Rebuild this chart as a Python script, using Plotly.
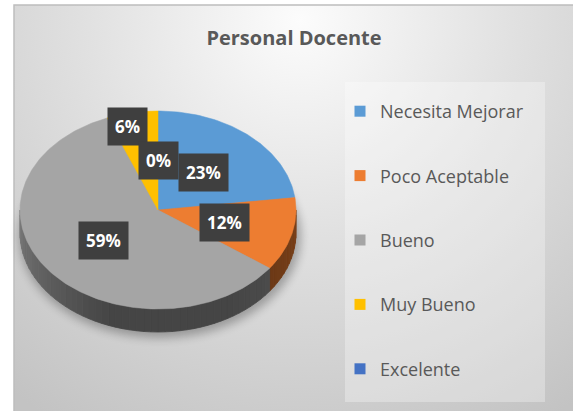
import base64
import numpy as np
import plotly.graph_objects as go

# ---- data -------------------------------------------------------------
categories = ["Necesita Mejorar", "Poco Aceptable", "Bueno", "Muy Bueno", "Excelente"]
percentages = [23, 12, 59, 6, 0]
colors = ["#5B9BD5", "#ED7D31", "#A5A5A5", "#FFC000", "#4472C4"]
title_text = "Personal Docente"

# ---- geometry of the tilted pie (in pixel-like axis units) -------------
W, H = 573, 411
CX, CY = 158, 210          # centre of the top face
RX, RY = 138, 99           # ellipse radii of the top face
DEPTH = 23                 # thickness of the disc
LABEL_R = [0.5, 0.5, 0.5, 0.86, 0.5]   # radial position of each data label
LABEL_XSHIFT = [0, 0, 0, -8, 0]

total = float(sum(percentages))
bounds = np.concatenate([[0.0], np.cumsum(percentages)]) / total * 360.0


def ell(theta_deg, dy=0.0):
    t = np.radians(theta_deg)
    return CX + RX * np.sin(t), CY - RY * np.cos(t) + dy


def arc(a0, a1, dy=0.0, step=1.0):
    n = max(2, int(np.ceil(abs(a1 - a0) / step)) + 1)
    th = np.linspace(a0, a1, n)
    return ell(th, dy)


def shade(hex_color, f):
    h = hex_color.lstrip("#")
    r, g, b = (int(h[i:i + 2], 16) for i in (0, 2, 4))
    return "rgb({},{},{})".format(int(r * f), int(g * f), int(b * f))


def side_factor(theta):
    # light falls from the upper left: the left of the wall is brighter
    return float(np.interp(theta, [90, 150, 200, 270], [0.52, 0.42, 0.42, 0.74]))


fig = go.Figure()

# side wall (front half of the disc), drawn in narrow shaded strips
for i, col in enumerate(colors):
    lo, hi = max(bounds[i], 90.0), min(bounds[i + 1], 270.0)
    if hi <= lo:
        continue
    edges = np.arange(lo, hi, 3.0).tolist() + [hi]
    for t0, t1 in zip(edges[:-1], edges[1:]):
        xt, yt = arc(t0, t1)
        xb, yb = arc(t1, t0, DEPTH)
        xs = np.concatenate([xt, xb, xt[:1]])
        ys = np.concatenate([yt, yb, yt[:1]])
        c = shade(col, side_factor((t0 + t1) / 2))
        fig.add_trace(go.Scatter(
            x=xs, y=ys, mode="lines", fill="toself", fillcolor=c,
            line=dict(color=c, width=0.8), hoverinfo="skip", showlegend=False))

# top face slices
for i, (cat, p, col) in enumerate(zip(categories, percentages, colors)):
    a0, a1 = bounds[i], bounds[i + 1]
    if a1 <= a0:
        continue
    xa, ya = arc(a0, a1)
    xs = np.concatenate([[CX], xa, [CX]])
    ys = np.concatenate([[CY], ya, [CY]])
    fig.add_trace(go.Scatter(
        x=xs, y=ys, mode="lines", fill="toself", fillcolor=col,
        line=dict(color=col, width=0.5), name=cat,
        hovertemplate=f"{cat}: {p}%<extra></extra>", showlegend=False))

# legend entries
for cat, col in zip(categories, colors):
    fig.add_trace(go.Scatter(
        x=[None], y=[None], mode="markers", name=cat, legendgroup=cat,
        marker=dict(symbol="square", size=11, color=col)))

# data labels in dark boxes
annotations = []
for i, p in enumerate(percentages):
    mid = (bounds[i] + bounds[i + 1]) / 2
    t = np.radians(mid)
    lx = CX + RX * np.sin(t) * LABEL_R[i]
    ly = CY - RY * np.cos(t) * LABEL_R[i]
    annotations.append(dict(
        x=lx, y=ly, xref="x", yref="y", text=f"{p}%", showarrow=False,
        xshift=LABEL_XSHIFT[i], borderpad=7, bgcolor="#3F3F3F",
        font=dict(family="Open Sans", size=17, color="#FFFFFF", weight="bold")))

# chart-area background: soft radial gradient, frame and disc shadow
svg = f'''<svg xmlns="http://www.w3.org/2000/svg" width="{W}" height="{H}" viewBox="0 0 {W} {H}">
<defs>
<radialGradient id="g" cx="300" cy="20" r="470" gradientUnits="userSpaceOnUse">
<stop offset="0" stop-color="#FCFCFC"/><stop offset="0.45" stop-color="#E1E1E1"/>
<stop offset="1" stop-color="#C3C3C3"/></radialGradient>
<filter id="b" x="-20%" y="-20%" width="140%" height="140%"><feGaussianBlur stdDeviation="5"/></filter>
</defs>
<rect width="{W}" height="{H}" fill="#FFFFFF"/>
<rect x="14" y="5" width="{W + 10}" height="{H + 10}" fill="url(#g)" stroke="#BDBDBD" stroke-width="1.5"/>
<ellipse cx="{CX + 2}" cy="{CY + DEPTH + 3}" rx="{RX + 3}" ry="{RY + 3}" fill="#000" opacity="0.28" filter="url(#b)"/>
</svg>'''
bg_uri = "data:image/svg+xml;base64," + base64.b64encode(svg.encode()).decode()

fig.update_layout(
    width=W, height=H,
    margin=dict(l=0, r=0, t=0, b=0),
    paper_bgcolor="#FFFFFF", plot_bgcolor="rgba(0,0,0,0)",
    xaxis=dict(range=[0, W], visible=False, fixedrange=True, domain=[0, 1]),
    yaxis=dict(range=[H, 0], visible=False, fixedrange=True, domain=[0, 1]),
    title=dict(text=title_text, x=294 / W, xanchor="center", y=1 - 38 / H,
               yanchor="middle", yref="container",
               font=dict(family="Open Sans", size=20, color="#595959", weight="bold")),
    legend=dict(x=340 / W, xanchor="left", y=1 - 93 / H, yanchor="top",
                bgcolor="rgba(0,0,0,0)", traceorder="grouped", tracegroupgap=38,
                font=dict(family="Open Sans", size=18, color="#595959")),
    images=[dict(source=bg_uri, xref="paper", yref="paper", x=0, y=1,
                 sizex=1, sizey=1, sizing="stretch", layer="below",
                 xanchor="left", yanchor="top")],
    shapes=[dict(type="rect", xref="paper", yref="paper",
                 x0=345 / W, x1=545 / W, y0=1 - 402 / H, y1=1 - 82 / H,
                 fillcolor="rgba(255,255,255,0.3)", line=dict(width=0), layer="below")],
    annotations=annotations,
    showlegend=True,
)

fig.write_html("out.html")
